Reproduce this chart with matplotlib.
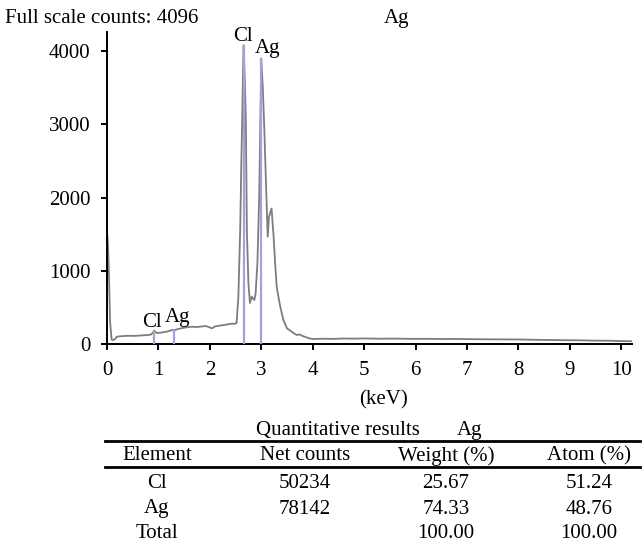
import matplotlib
matplotlib.use("Agg")
import matplotlib.pyplot as plt
from matplotlib.lines import Line2D

plt.rcParams['font.family'] = ['Liberation Serif', 'DejaVu Serif']

# ---- spectrum data ----
energy_kev = [0.00, 0.02, 0.04, 0.06, 0.09, 0.12, 0.16, 0.19, 0.25, 0.35, 0.45, 0.55, 0.61,
              0.70, 0.80, 0.86, 0.92, 0.97, 1.05, 1.13, 1.20, 1.26, 1.30, 1.36, 1.45, 1.55,
              1.65, 1.75, 1.85, 1.91, 1.97, 2.04, 2.10, 2.17, 2.23, 2.30, 2.36, 2.43, 2.48,
              2.52, 2.555, 2.59, 2.61, 2.63, 2.655, 2.68, 2.70, 2.72, 2.75, 2.78, 2.815,
              2.84, 2.865, 2.89, 2.925, 2.96, 2.98, 3.00, 3.03, 3.06, 3.10, 3.125, 3.15,
              3.20, 3.24, 3.27, 3.30, 3.34, 3.37, 3.43, 3.50, 3.55, 3.59, 3.64, 3.69, 3.75,
              3.80, 3.86, 3.92, 4.00, 4.20, 4.40, 4.60, 4.80, 5.00, 5.30, 5.60, 5.90, 6.20,
              6.50, 6.80, 7.10, 7.40, 7.70, 8.00, 8.30, 8.60, 8.90, 9.20, 9.50, 9.80, 10.00,
              10.21]
counts = [1550, 1350, 900, 300, 60, 55, 70, 100, 105, 110, 112, 110, 114,
          118, 123, 130, 182, 150, 155, 164, 175, 191, 185, 200, 215, 228,
          236, 232, 240, 245, 235, 213, 240, 248, 255, 262, 270, 278, 275,
          287, 646, 1556, 2375, 3100, 4080, 3600, 3060, 1556, 830, 560, 646,
          620, 600, 690, 1100, 2010, 2920, 3900, 3500, 2920, 2010, 1465, 1738,
          1850, 1465, 1100, 782, 620, 510, 328, 214, 190, 168, 145, 123, 130,
          110, 95, 80, 68, 72, 70, 75, 73, 76, 72, 74, 70, 71,
          68, 69, 66, 64, 63, 62, 58, 55, 52, 50, 46, 44, 40,
          38]

# peak markers
marker_kev = [0.92, 1.30, 2.655, 3.00]
marker_counts = [182, 191, 4080, 3900]
marker_labels = ['Cl', 'Ag', 'Cl', 'Ag']
label_kev = [0.87, 1.38, 2.64, 3.12]
label_counts = [236, 304, 4140, 3970]

x_ticks = [0, 1, 2, 3, 4, 5, 6, 7, 8, 9, 10]
y_ticks = [0, 1000, 2000, 3000, 4000]

# ---- table data ----
table_headers = ['Element', 'Net counts', 'Weight (%)', 'Atom (%)']
elements = ['Cl', 'Ag', 'Total']
net_counts = ['50234', '78142', '']
weight_pct = ['25.67', '74.33', '100.00']
atom_pct = ['51.24', '48.76', '100.00']

W, H = 642, 544
fig = plt.figure(figsize=(W / 100, H / 100), dpi=100)
fs = 15

ax = fig.add_axes([107 / W, 200 / H, 525 / W, 312 / H])
ax.plot(energy_kev, counts, color='#7d7d7d', lw=1.3, zorder=2)
ax.vlines(marker_kev, 0, marker_counts, color='#a3a3d6', lw=1.6, zorder=3)
for lx, ly, t in zip(label_kev, label_counts, marker_labels):
    ax.text(lx, ly, t, ha='center', va='baseline', fontsize=fs, clip_on=False)

ax.set_xlim(0, 10.21)
ax.set_ylim(0, 4260)
ax.set_xticks(x_ticks)
ax.set_yticks(y_ticks)
ax.tick_params(direction='out', length=4, width=1.4, labelsize=fs)
ax.tick_params(axis='x', pad=8)
ax.tick_params(axis='y', pad=8)
for s in ['top', 'right']:
    ax.spines[s].set_visible(False)
for s in ['left', 'bottom']:
    ax.spines[s].set_linewidth(1.4)

def fx(px):
    return px / W

def fy(py):
    return 1 - py / H

fig.text(fx(5), fy(22.7), 'Full scale counts: 4096', fontsize=fs, ha='left', va='baseline')
fig.text(fx(397), fy(22.7), 'Ag', fontsize=fs, ha='center', va='baseline')
fig.text(fx(384), fy(404), '(keV)', fontsize=fs, ha='center', va='baseline')

fig.text(fx(338), fy(435), 'Quantitative results', fontsize=fs, ha='center', va='baseline')
fig.text(fx(470), fy(435), 'Ag', fontsize=fs, ha='center', va='baseline')

fig.add_artist(Line2D([fx(105), fx(640)], [fy(441), fy(441)], color='black', lw=2))
fig.add_artist(Line2D([fx(105), fx(640)], [fy(467), fy(467)], color='black', lw=2))

col_x = [157, 305, 446, 589]
for cx, h in zip(col_x, table_headers):
    fig.text(fx(cx), fy(460.5), h, fontsize=fs, ha='center', va='baseline')

row_y = [488.5, 513.5, 537.5]
for ry, e, n, w, a in zip(row_y, elements, net_counts, weight_pct, atom_pct):
    for cx, val in zip(col_x, [e, n, w, a]):
        if val:
            fig.text(fx(cx), fy(ry), val, fontsize=fs, ha='center', va='baseline')

fig.savefig('out.png', dpi=100)
